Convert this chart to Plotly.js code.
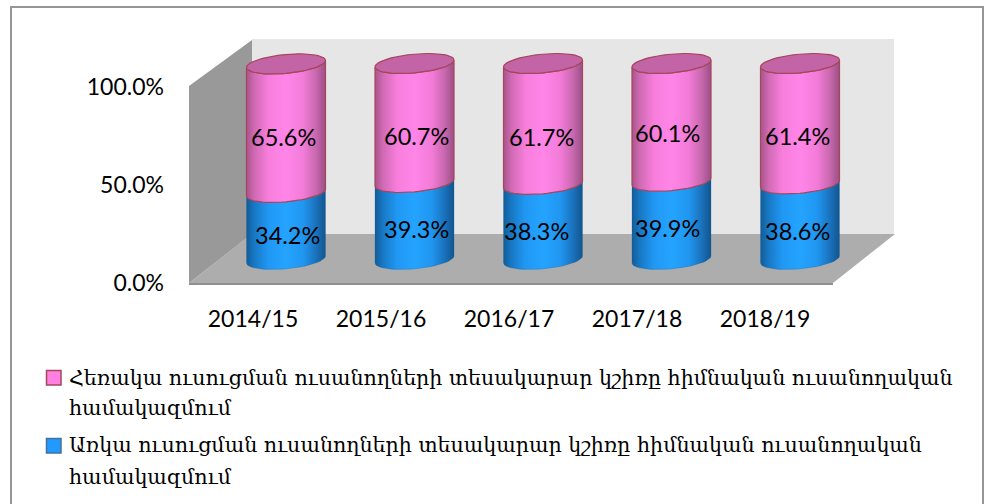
<!DOCTYPE html>
<html><head><meta charset="utf-8">
<script src="https://cdn.plot.ly/plotly-3.0.1.min.js"></script>
<style>html,body{margin:0;padding:0;background:#fff}</style></head>
<body><div id="chart" style="width:986px;height:504px"></div>
<script>
const years = ["2014/15","2015/16","2016/17","2017/18","2018/19"];
const partTime = [65.6,60.7,61.7,60.1,61.4];
const fullTime = [34.2,39.3,38.3,39.9,38.6];
const yTicks = [0,50,100];
const partTimeLines = ["Հեռակա ուսուցման ուսանողների տեսակարար կշիռը հիմնական ուսանողական","համակազմում"];
const fullTimeLines = ["Առկա ուսուցման ուսանողների տեսակարար կշիռը հիմնական ուսանողական","համակազմում"];

const W=986,H=504;
const px=x=>x/W, py=y=>1-y/H;
// hidden axes carrying the cylinders: category i is at 286+128.5*i px, value 0 at 259.5 px
const stepX=128.5, stepY=1.96, cx0=286, cy0=259.5;
const A=39.5/stepX, B=9.4/stepY, S=3.5/stepY;

function arc(cx,cy,t0,t1,n){const xs=[],ys=[];for(let k=0;k<=n;k++){const t=t0+(t1-t0)*k/n;
  xs.push(cx+A*Math.cos(t)); ys.push(cy-B*Math.sin(t)+S*Math.cos(t));}return [xs,ys];}
function segment(cx,y0,y1){const a=arc(cx,y0,Math.PI,0,30),b=arc(cx,y1,0,Math.PI,30);
  return {x:a[0].concat(b[0],[a[0][0]]),y:a[1].concat(b[1],[a[1][0]])};}

const pinkScale=[[0,'#a8548c'],[0.1,'#d06ab4'],[0.28,'#f87edc'],[0.5,'#ff86e8'],[0.72,'#f27bd8'],[0.88,'#c868ae'],[1,'#9c4f86']];
const blueScale=[[0,'#125c98'],[0.1,'#1878c4'],[0.28,'#2098f4'],[0.5,'#24a4ff'],[0.72,'#2096f0'],[0.88,'#1a72bc'],[1,'#12558e']];
const traces=[{type:'scatter',x:[0],y:[0],xaxis:'x',yaxis:'y',mode:'markers',marker:{opacity:0},showlegend:false,hoverinfo:'skip'}];
const ann=[];
const labelFont={family:'Lato, Carlito, sans-serif',size:23.5,color:'#000'};
const yNudge=[[9,9],[13,8],[13,9],[11,8],[12,9]], xNudge=[[-3,1],[2,2],[-2,-7],[-4,-4],[-3,-3]];
years.forEach((yr,i)=>{
  const a=0, b=fullTime[i], c=b+partTime[i];
  const sb=segment(i,a,b), sp=segment(i,b,c), top=arc(i,c,0,2*Math.PI,60);
  const base={type:'scatter',mode:'lines',xaxis:'x2',yaxis:'y2',showlegend:false,hoverinfo:'skip'};
  traces.push({...base,x:sb.x,y:sb.y,fill:'toself',line:{color:'rgba(20,90,150,0.5)',width:0.5},
    fillgradient:{type:'horizontal',start:i-A,stop:i+A,colorscale:blueScale},name:fullTimeLines[0]});
  traces.push({...base,x:sp.x,y:sp.y,fill:'toself',line:{color:'#a5465a',width:1.2},
    fillgradient:{type:'horizontal',start:i-A,stop:i+A,colorscale:pinkScale},name:partTimeLines[0]});
  traces.push({...base,x:top[0],y:top[1],fill:'toself',fillcolor:'#c264a6',line:{color:'#a5465a',width:1.2}});
  const lab=(v,mid,k)=>ann.push({x:i,y:mid,xref:'x2',yref:'y2',text:v.toFixed(1)+'%',showarrow:false,xanchor:'center',yanchor:'middle',
    xshift:xNudge[i][k],yshift:-yNudge[i][k],font:labelFont});
  lab(partTime[i],(b+c)/2,0); lab(fullTime[i],(a+b)/2,1);
});
const poly=(pts,fill,line,lw)=>({type:'path',xref:'paper',yref:'paper',layer:'below',
  path:'M'+pts.map(p=>px(p[0])+','+py(p[1])).join('L')+'Z',fillcolor:fill,line:{color:line||fill,width:lw||0}});
const shapes=[
  {type:'rect',xref:'paper',yref:'paper',layer:'below',x0:px(11),x1:px(983),y0:py(7),y1:py(540),fillcolor:'#fff',line:{color:'#969696',width:2}},
  poly([[252,39],[894,39],[894,234],[252,234]],'#e6e6e6'),
  poly([[189,283],[252,234],[895,234],[833,283]],'#adadad'),
  poly([[189,86],[252,40],[252,234],[189,283]],'#999999'),
  poly([[189,283],[833,283],[833,285],[189,285]],'#8f8f8f'),
  poly([[46.5,370.5],[61,370.5],[61,385],[46.5,385]],'#ff80e0','#a5465a',1.5),
  poly([[46.5,438.5],[61,438.5],[61,453],[46.5,453]],'#2299ff','#41719c',1.5)
];
const legendFont={family:'DejaVu Serif, serif',size:20.6,color:'#000'};
[[partTimeLines,[378,408]],[fullTimeLines,[445,477]]].forEach(([ls,ys])=>ls.forEach((t,j)=>ann.push({
  xref:'paper',yref:'paper',x:px(67),y:py(ys[j]),text:t,showarrow:false,xanchor:'left',yanchor:'middle',font:legendFont})));
const tickFont={family:'Lato, Carlito, sans-serif',size:23,color:'#000'};
const hidden={showgrid:false,zeroline:false,showline:false,showticklabels:false,ticks:'',fixedrange:true};
const layout={width:W,height:H,margin:{l:0,r:0,t:0,b:0},paper_bgcolor:'#fff',plot_bgcolor:'rgba(0,0,0,0)',showlegend:false,
  xaxis:{domain:[px(189),px(829)],range:[-0.5,4.5],tickvals:years.map((_,i)=>i),ticktext:years,showgrid:false,zeroline:false,showline:false,
    ticks:'',ticklabelstandoff:20,tickfont:tickFont,fixedrange:true},
  yaxis:{domain:[py(283),py(87)],range:[0,100],tickvals:yTicks,ticktext:yTicks.map(v=>v.toFixed(1)+'%'),showgrid:false,zeroline:false,showline:false,
    ticks:'',ticklabelstandoff:24,tickfont:tickFont,fixedrange:true},
  xaxis2:{...hidden,domain:[0,1],anchor:'y2',range:[-cx0/stepX,(W-cx0)/stepX]},
  yaxis2:{...hidden,domain:[0,1],anchor:'x2',range:[-(H-cy0)/stepY,cy0/stepY]},
  shapes:shapes,annotations:ann};
Plotly.newPlot('chart',traces,layout,{displayModeBar:false,staticPlot:true});
</script></body></html>
